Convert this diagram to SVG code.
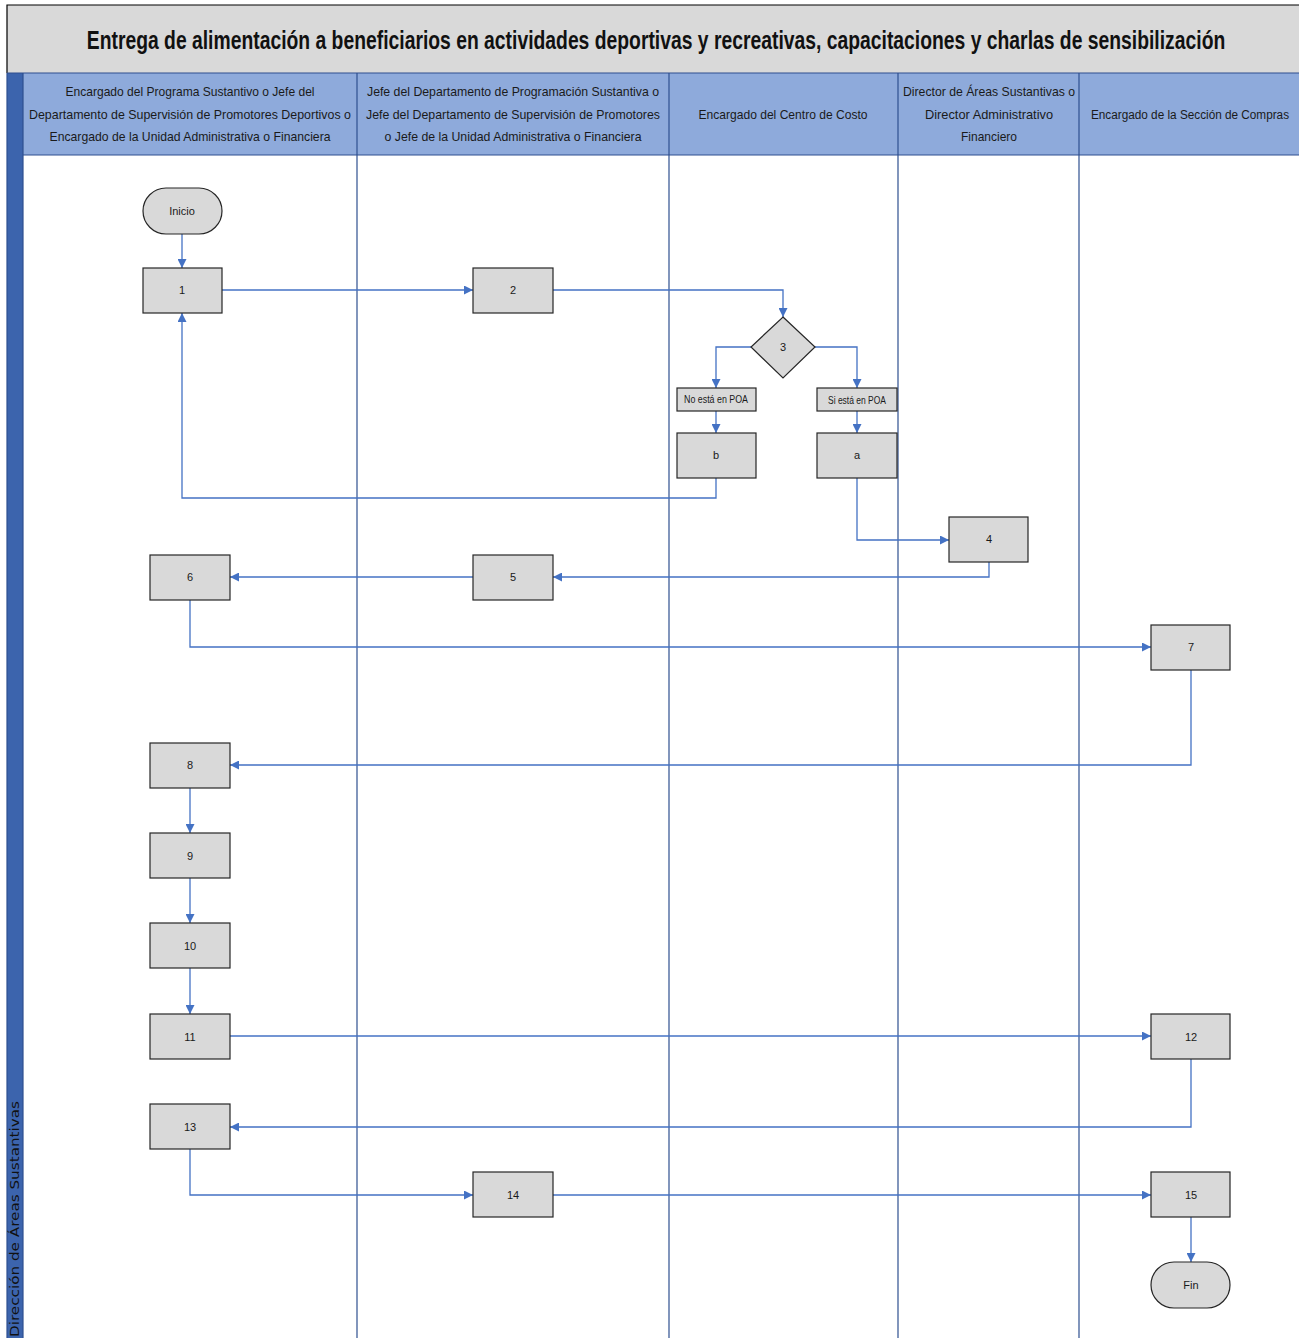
<svg xmlns="http://www.w3.org/2000/svg" width="1299" height="1338" viewBox="0 0 1299 1338">
<style>
.hdr{font-family:"Liberation Sans",Arial,sans-serif;font-size:13.5px;fill:#1a1a1a;text-anchor:middle}
.box{fill:#d9d9d9;stroke:#262626;stroke-width:1.2}
.lbl{font-family:"Liberation Sans",Arial,sans-serif;font-size:11px;fill:#1a1a1a;text-anchor:middle;dominant-baseline:central}
.lane{stroke:#2e4f8f;stroke-width:1.2}
.con{fill:none;stroke:#4472c4;stroke-width:1.3}
</style>
<defs>
<marker id="ah" viewBox="0 0 10 10" refX="10" refY="5" markerWidth="10" markerHeight="9" markerUnits="userSpaceOnUse" orient="auto">
<path d="M0,0 L10,5 L0,10 z" fill="#4472c4"/>
</marker>
</defs>
<rect width="1299" height="1338" fill="#ffffff"/>
<!-- title -->
<rect x="7" y="5" width="1292" height="68" fill="#d9d9d9"/>
<path d="M7,73 L7,5 L1299,5" fill="none" stroke="#000" stroke-width="1.2"/>
<g transform="translate(656,49) scale(0.76,1)">
<text x="0" y="0" font-family="Liberation Sans,Arial,sans-serif" font-size="26" font-weight="bold" fill="#111" text-anchor="middle" textLength="1498" lengthAdjust="spacingAndGlyphs">Entrega de alimentación a beneficiarios en actividades deportivas y recreativas, capacitaciones y charlas de sensibilización</text>
</g>
<!-- header -->
<rect x="7" y="73" width="1292" height="82" fill="#8eaadb"/>
<rect x="7" y="73" width="16" height="1265" fill="#3c64ad"/>
<line x1="7" y1="73" x2="1299" y2="73" stroke="#2e4f8f" stroke-width="1.2"/>
<line x1="23" y1="155" x2="1299" y2="155" stroke="#2e4f8f" stroke-width="1.2"/>
<g class="lane">
<line x1="7" y1="73" x2="7" y2="1338"/>
<line x1="23" y1="73" x2="23" y2="1338"/>
<line x1="357" y1="73" x2="357" y2="1338"/>
<line x1="669" y1="73" x2="669" y2="1338"/>
<line x1="898" y1="73" x2="898" y2="1338"/>
<line x1="1079" y1="73" x2="1079" y2="1338"/>
</g>
<text x="19" y="1337" transform="rotate(-90 19 1337)" font-family="DejaVu Sans,sans-serif" font-size="13" fill="#111" textLength="236" lengthAdjust="spacingAndGlyphs">Dirección de Áreas Sustantivas</text>
<g id="headers">
<text class="hdr" x="190" y="96" textLength="249" lengthAdjust="spacingAndGlyphs">Encargado del Programa Sustantivo o Jefe del</text>
<text class="hdr" x="190" y="119" textLength="322" lengthAdjust="spacingAndGlyphs">Departamento de Supervisión de Promotores Deportivos o</text>
<text class="hdr" x="190" y="141" textLength="281" lengthAdjust="spacingAndGlyphs">Encargado de la Unidad Administrativa o Financiera</text>
<text class="hdr" x="513" y="96" textLength="292" lengthAdjust="spacingAndGlyphs">Jefe del Departamento de Programación Sustantiva o</text>
<text class="hdr" x="513" y="119" textLength="294" lengthAdjust="spacingAndGlyphs">Jefe del Departamento de Supervisión de Promotores</text>
<text class="hdr" x="513" y="141" textLength="257" lengthAdjust="spacingAndGlyphs">o Jefe de la Unidad Administrativa o Financiera</text>
<text class="hdr" x="783" y="119" textLength="169" lengthAdjust="spacingAndGlyphs">Encargado del Centro de Costo</text>
<text class="hdr" x="989" y="96" textLength="172" lengthAdjust="spacingAndGlyphs">Director de Áreas Sustantivas o</text>
<text class="hdr" x="989" y="119" textLength="128" lengthAdjust="spacingAndGlyphs">Director Administrativo</text>
<text class="hdr" x="989" y="141" textLength="56" lengthAdjust="spacingAndGlyphs">Financiero</text>
<g transform="translate(1190,119) scale(0.85,1)">
<text class="hdr" x="0" y="0" textLength="233" lengthAdjust="spacingAndGlyphs">Encargado de la Sección de Compras</text>
</g>
</g>
<!-- connectors -->
<g id="connectors">
<path class="con" d="M182,234 L182,268" marker-end="url(#ah)"/>
<path class="con" d="M222,290 L473,290" marker-end="url(#ah)"/>
<path class="con" d="M553,290 L783,290 L783,317" marker-end="url(#ah)"/>
<path class="con" d="M752,347 L716,347 L716,388" marker-end="url(#ah)"/>
<path class="con" d="M815,347 L857,347 L857,388" marker-end="url(#ah)"/>
<path class="con" d="M716,411 L716,433" marker-end="url(#ah)"/>
<path class="con" d="M857,411 L857,433" marker-end="url(#ah)"/>
<path class="con" d="M716,478 L716,498 L182,498 L182,313" marker-end="url(#ah)"/>
<path class="con" d="M857,478 L857,540 L949,540" marker-end="url(#ah)"/>
<path class="con" d="M989,562 L989,577 L553,577" marker-end="url(#ah)"/>
<path class="con" d="M473,577 L230,577" marker-end="url(#ah)"/>
<path class="con" d="M190,600 L190,647 L1151,647" marker-end="url(#ah)"/>
<path class="con" d="M1191,670 L1191,765 L230,765" marker-end="url(#ah)"/>
<path class="con" d="M190,788 L190,833" marker-end="url(#ah)"/>
<path class="con" d="M190,878 L190,923" marker-end="url(#ah)"/>
<path class="con" d="M190,968 L190,1014" marker-end="url(#ah)"/>
<path class="con" d="M230,1036 L1151,1036" marker-end="url(#ah)"/>
<path class="con" d="M1191,1059 L1191,1127 L230,1127" marker-end="url(#ah)"/>
<path class="con" d="M190,1149 L190,1195 L473,1195" marker-end="url(#ah)"/>
<path class="con" d="M553,1195 L1151,1195" marker-end="url(#ah)"/>
<path class="con" d="M1191,1217 L1191,1262" marker-end="url(#ah)"/>
</g>
<!-- nodes -->
<g id="inicio"><rect class="box" x="143" y="188" width="79" height="46" rx="23"/><text class="lbl" x="182" y="211">Inicio</text></g>
<g id="n1"><rect class="box" x="143" y="268" width="79" height="45"/><text class="lbl" x="182" y="290">1</text></g>
<g id="n2"><rect class="box" x="473" y="268" width="80" height="45"/><text class="lbl" x="513" y="290">2</text></g>
<g id="n3"><path class="box" d="M783,317 L815,347 L783,378 L751,347 z"/><text class="lbl" x="783" y="347">3</text></g>
<g id="no"><rect class="box" x="677" y="388" width="79" height="23"/><text class="lbl" x="716" y="399" font-size="10.5" textLength="64" lengthAdjust="spacingAndGlyphs">No está en POA</text></g>
<g id="si"><rect class="box" x="817" y="388" width="80" height="23"/><text class="lbl" x="857" y="400" font-size="10.5" textLength="58" lengthAdjust="spacingAndGlyphs">Si está en POA</text></g>
<g id="nb"><rect class="box" x="677" y="433" width="79" height="45"/><text class="lbl" x="716" y="455">b</text></g>
<g id="na"><rect class="box" x="817" y="433" width="80" height="45"/><text class="lbl" x="857" y="455">a</text></g>
<g id="n4"><rect class="box" x="949" y="517" width="79" height="45"/><text class="lbl" x="989" y="539">4</text></g>
<g id="n5"><rect class="box" x="473" y="555" width="80" height="45"/><text class="lbl" x="513" y="577">5</text></g>
<g id="n6"><rect class="box" x="150" y="555" width="80" height="45"/><text class="lbl" x="190" y="577">6</text></g>
<g id="n7"><rect class="box" x="1151" y="625" width="79" height="45"/><text class="lbl" x="1191" y="647">7</text></g>
<g id="n8"><rect class="box" x="150" y="743" width="80" height="45"/><text class="lbl" x="190" y="765">8</text></g>
<g id="n9"><rect class="box" x="150" y="833" width="80" height="45"/><text class="lbl" x="190" y="856">9</text></g>
<g id="n10"><rect class="box" x="150" y="923" width="80" height="45"/><text class="lbl" x="190" y="946">10</text></g>
<g id="n11"><rect class="box" x="150" y="1014" width="80" height="45"/><text class="lbl" x="190" y="1037">11</text></g>
<g id="n12"><rect class="box" x="1151" y="1014" width="79" height="45"/><text class="lbl" x="1191" y="1037">12</text></g>
<g id="n13"><rect class="box" x="150" y="1104" width="80" height="45"/><text class="lbl" x="190" y="1127">13</text></g>
<g id="n14"><rect class="box" x="473" y="1172" width="80" height="45"/><text class="lbl" x="513" y="1195">14</text></g>
<g id="n15"><rect class="box" x="1151" y="1172" width="79" height="45"/><text class="lbl" x="1191" y="1195">15</text></g>
<g id="fin"><rect class="box" x="1151" y="1262" width="79" height="46" rx="23"/><text class="lbl" x="1191" y="1285">Fin</text></g>
</svg>
